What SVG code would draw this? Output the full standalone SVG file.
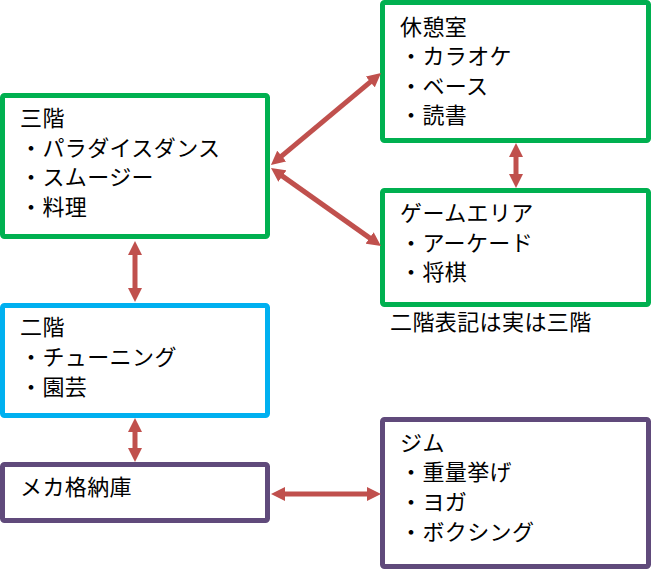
<svg xmlns="http://www.w3.org/2000/svg" width="652" height="570" viewBox="0 0 652 570">
<defs>
<marker id="ah" viewBox="0 0 14 14" markerUnits="userSpaceOnUse" markerWidth="14" markerHeight="14" refX="6" refY="7" orient="auto-start-reverse">
<path d="M0,0 L14,7 L0,14 z" fill="#C0504D"/>
</marker>
<style>
.box{fill:#fff;stroke-width:5}
.g{stroke:#00B050}
.b{stroke:#00B0F0}
.p{stroke:#604A7B}
text{font-family:"Noto Sans CJK JP","Noto Sans",sans-serif;font-size:22px;letter-spacing:0.4px;fill:#000}
.c line{stroke:#C0504D;stroke-width:5;marker-start:url(#ah);marker-end:url(#ah)}
</style>
</defs>
<rect width="652" height="570" fill="#fff"/>
<g id="sankai">
<rect class="box g" x="2.5" y="95.5" width="265" height="141" rx="2"/>
<text x="20" y="126">三階</text>
<text x="20" y="155.5">・パラダイスダンス</text>
<text x="20" y="185">・スムージー</text>
<text x="20" y="214.5">・料理</text>
</g>
<g id="kyukeishitsu">
<rect class="box g" x="382.5" y="2.5" width="266" height="138" rx="2"/>
<text x="400" y="35">休憩室</text>
<text x="400" y="64">・カラオケ</text>
<text x="400" y="94">・ベース</text>
<text x="400" y="123">・読書</text>
</g>
<g id="game">
<rect class="box g" x="382.5" y="190.5" width="266" height="114" rx="2"/>
<text x="400" y="221">ゲームエリア</text>
<text x="400" y="251">・アーケード</text>
<text x="400" y="280">・将棋</text>
</g>
<g id="note">
<text x="390" y="330">二階表記は実は三階</text>
</g>
<g id="nikai">
<rect class="box b" x="2.5" y="305.5" width="265" height="110" rx="2"/>
<text x="20" y="335">二階</text>
<text x="20" y="365">・チューニング</text>
<text x="20" y="395">・園芸</text>
</g>
<g id="meka">
<rect class="box p" x="2.5" y="464.5" width="265" height="56" rx="2"/>
<text x="20" y="495">メカ格納庫</text>
</g>
<g id="gym">
<rect class="box p" x="382.5" y="419.5" width="266" height="147" rx="2"/>
<text x="400" y="451">ジム</text>
<text x="400" y="480">・重量挙げ</text>
<text x="400" y="510">・ヨガ</text>
<text x="400" y="540">・ボクシング</text>
</g>
<g id="connectors" class="c">
<line x1="277.1" y1="159.9" x2="374.9" y2="78.1"/>
<line x1="277.5" y1="172.6" x2="374.5" y2="241.4"/>
<line x1="135" y1="249" x2="135" y2="294"/>
<line x1="135" y1="426" x2="135" y2="454"/>
<line x1="516" y1="151" x2="516" y2="180"/>
<line x1="279" y1="494" x2="373" y2="494"/>
</g>
</svg>
